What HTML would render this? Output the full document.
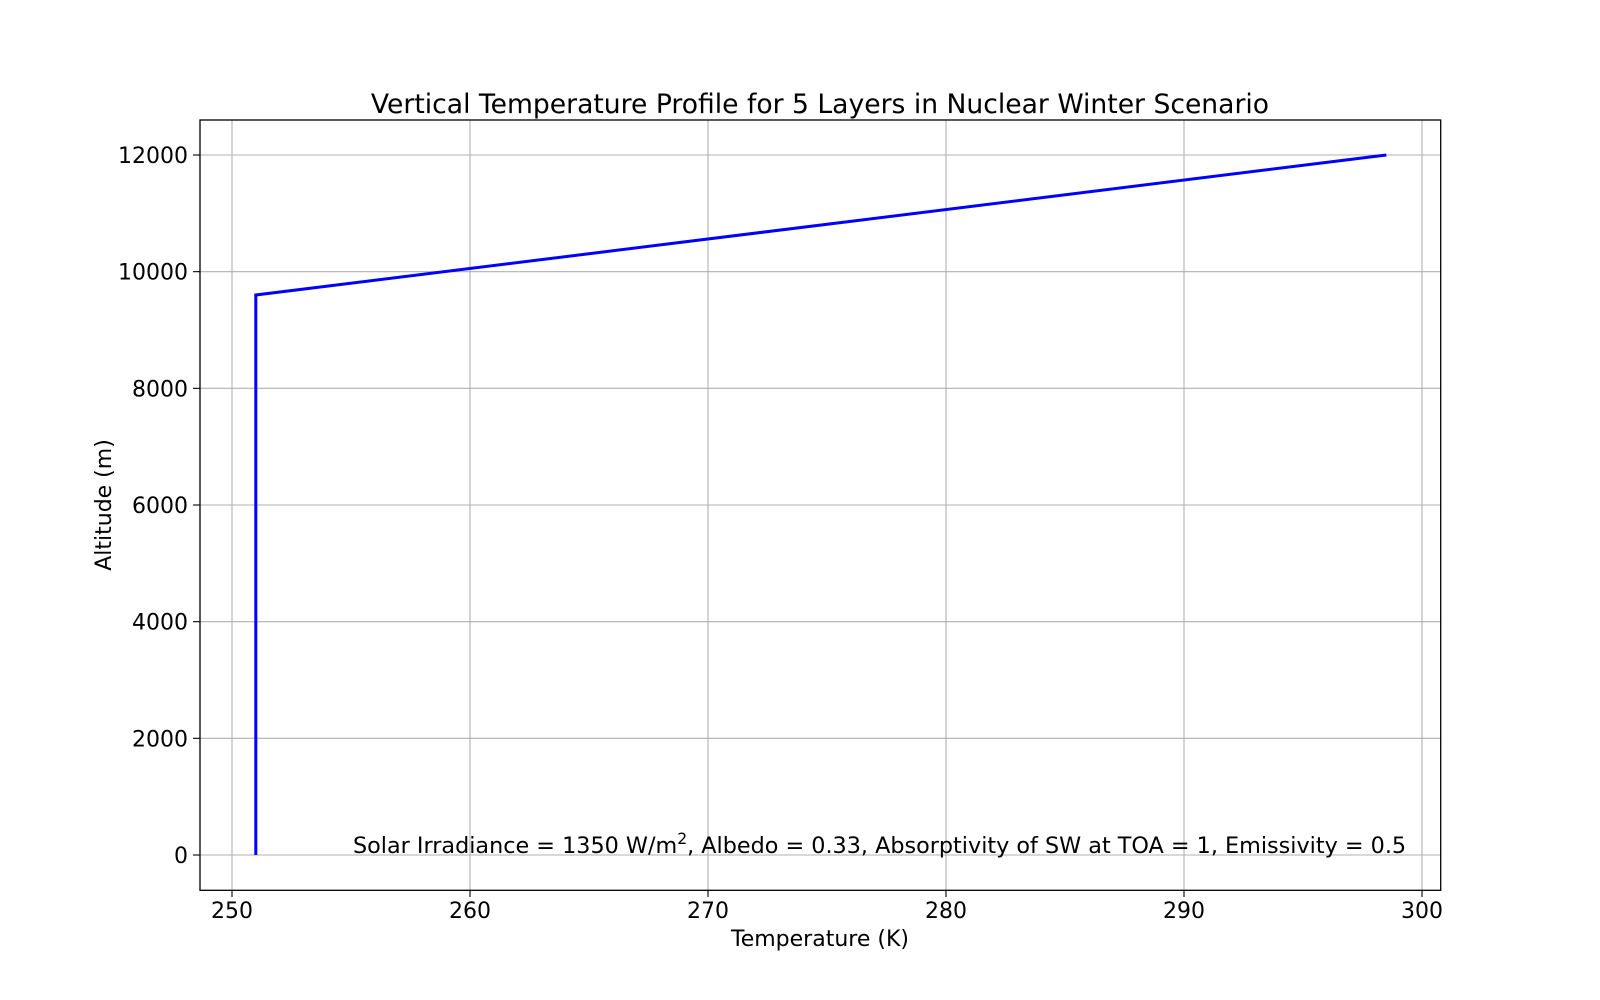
<!DOCTYPE html>
<html><head><meta charset="utf-8"><style>
body{margin:0;background:#fff;}
svg{display:block;font-family:"DejaVu Sans","Liberation Sans",sans-serif;}
</style></head><body>
<svg id="chart" width="1600" height="1000">
<rect x="0" y="0" width="1600" height="1000" fill="#fff"/>
<g id="grid"></g>
<g id="ticks"></g>
<path id="line" fill="none" stroke="#0000ff" stroke-width="3"/>
<rect x="200" y="120" width="1240.7" height="770.3" fill="none" stroke="#000" stroke-width="1.3"/>
<text x="820" y="113" font-size="26.6" text-anchor="middle">Vertical Temperature Profile for 5 Layers in Nuclear Winter Scenario</text>
<text x="820" y="946" font-size="22" text-anchor="middle">Temperature (K)</text>
<text transform="translate(111,505) rotate(-90)" font-size="22" text-anchor="middle">Altitude (m)</text>
<text x="353" y="853" font-size="22.3">Solar Irradiance = 1350 W/m<tspan font-size="15.6" dy="-9">2</tspan><tspan dy="9">, Albedo = 0.33, Absorptivity of SW at TOA = 1, Emissivity = 0.5</tspan></text>
</svg>
<script>
const temps = [251.0, 251.0, 251.0, 251.0, 251.0, 298.5];
const altitudes = [0, 2400, 4800, 7200, 9600, 12000];
const xTicks = [250, 260, 270, 280, 290, 300];
const yTicks = [0, 2000, 4000, 6000, 8000, 10000, 12000];
const NS = 'http://www.w3.org/2000/svg';
function xs(v){return 232 + (v-250)*23.8;}
function ys(v){return 855 - v*0.058333;}
const grid = document.getElementById('grid'), ticks = document.getElementById('ticks');
function mk(tag, attrs, parent){const e=document.createElementNS(NS,tag);for(const k in attrs)e.setAttribute(k,attrs[k]);parent.appendChild(e);return e;}
xTicks.forEach(t=>{
  const x=xs(t);
  const g=mk('line',{x1:x,x2:x,y1:120,y2:890.3,stroke:'#b0b0b0','stroke-width':1.1},grid);
  
  
  const tk=mk('line',{x1:x,x2:x,y1:890.3,y2:897,stroke:'#000','stroke-width':1.1},ticks);
  
  
  const tx=mk('text',{x:x,y:918,'font-size':22,'text-anchor':'middle'},ticks);
  tx.textContent=t;
  
  
});
yTicks.forEach(t=>{
  const y=ys(t);
  const g=mk('line',{x1:200,x2:1440.7,y1:y,y2:y,stroke:'#b0b0b0','stroke-width':1.1},grid);
  
  
  const tk=mk('line',{x1:193,x2:200,y1:y,y2:y,stroke:'#000','stroke-width':1.1},ticks);
  
  
  const tx=mk('text',{x:188,y:y+8,'font-size':22,'text-anchor':'end'},ticks);
  tx.textContent=t;
  
  
});
document.getElementById('line').setAttribute('d', temps.map((t,i)=>(i?'L':'M')+xs(t)+' '+ys(altitudes[i])).join(' '));
</script>
</body></html>
